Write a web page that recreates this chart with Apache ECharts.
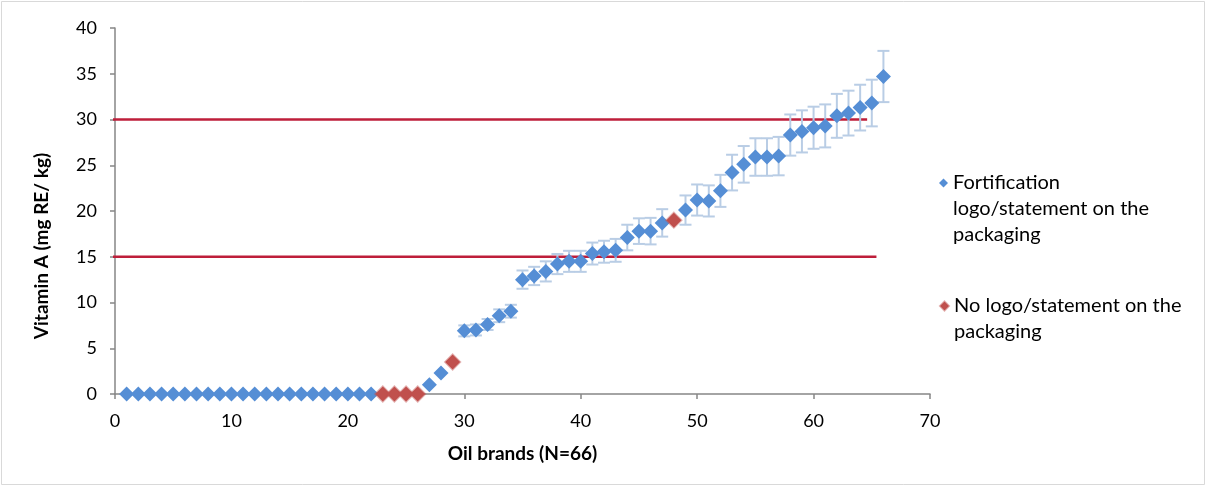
<!DOCTYPE html>
<html>
<head>
<meta charset="utf-8">
<script src="https://cdn.jsdelivr.net/npm/echarts@6/dist/echarts.min.js"></script>
<style>
  html, body { margin: 0; padding: 0; background: #fff; }
  #chart { width: 1207px; height: 489px; }
</style>
</head>
<body>
<div id="chart"></div>
<script>
// oil brand index (x)
const brands = [
  1, 2, 3, 4, 5, 6, 7, 8, 9, 10, 11, 12, 13, 14, 15, 16, 17, 18, 19, 20, 21, 22,
  23, 24, 25, 26, 27, 28, 29, 30, 31, 32, 33, 34, 35, 36, 37, 38, 39, 40, 41, 42,
  43, 44, 45, 46, 47, 48, 49, 50, 51, 52, 53, 54, 55, 56, 57, 58, 59, 60, 61, 62,
  63, 64, 65, 66
];
// vitamin A, mg RE / kg
const vitaminA = [
  0, 0, 0, 0, 0, 0, 0, 0, 0, 0, 0, 0, 0, 0, 0, 0, 0, 0, 0, 0, 0, 0,
  0, 0, 0, 0, 1.0, 2.3, 3.5, 6.9, 7.0, 7.6, 8.55, 9.05, 12.5, 12.9, 13.4, 14.2, 14.5, 14.5, 15.35, 15.55,
  15.7, 17.1, 17.8, 17.8, 18.7, 19.0, 20.1, 21.2, 21.1, 22.2, 24.2, 25.1, 25.9, 25.9, 26.0, 28.3, 28.7, 29.1, 29.3, 30.4,
  30.7, 31.3, 31.8, 34.7
];
// error bar half width (0 = no bar drawn)
const errors = [
  0, 0, 0, 0, 0, 0, 0, 0, 0, 0, 0, 0, 0, 0, 0, 0, 0, 0, 0, 0, 0, 0,
  0, 0, 0, 0, 0, 0, 0, 0.6, 0.6, 0.6, 0.7, 0.7, 1.0, 1.0, 1.1, 1.1, 1.15, 1.15, 1.2, 1.2,
  1.25, 1.4, 1.4, 1.45, 1.5, 0, 1.6, 1.7, 1.7, 1.75, 1.95, 2.0, 2.05, 2.05, 2.1, 2.25, 2.3, 2.3, 2.35, 2.4,
  2.45, 2.5, 2.55, 2.8
];
// 1 = fortification logo/statement on the packaging, 0 = no logo
const hasLogo = [
  1, 1, 1, 1, 1, 1, 1, 1, 1, 1, 1, 1, 1, 1, 1, 1, 1, 1, 1, 1, 1, 1,
  0, 0, 0, 0, 1, 1, 0, 1, 1, 1, 1, 1, 1, 1, 1, 1, 1, 1, 1, 1,
  1, 1, 1, 1, 1, 0, 1, 1, 1, 1, 1, 1, 1, 1, 1, 1, 1, 1, 1, 1,
  1, 1, 1, 1
];
const thresholds = [15, 30];
const thresholdEnds = [65.4, 64.6];

const seriesNames = [
  'Fortification logo/statement on the packaging',
  'No logo/statement on the packaging'
];
// leading blank lines keep the icon next to the first line
const legendLabels = [
  '\n\nFortification\nlogo/statement on the\npackaging',
  '\nNo logo/statement on the\npackaging'
];

const BLUE = '#558ED5';
const RED = '#C0504D';
const FONT = 'Lato';

const logoData = [];
const noLogoData = [];
const errData = [];
brands.forEach((b, i) => {
  if (hasLogo[i]) {
    logoData.push([b, vitaminA[i]]);
  } else {
    noLogoData.push([b, vitaminA[i]]);
  }
  if (errors[i] > 0) {
    errData.push([b, vitaminA[i] - errors[i], vitaminA[i] + errors[i]]);
  }
});

function renderErr(params, api) {
  const lo = api.coord([api.value(0), api.value(1)]);
  const hi = api.coord([api.value(0), api.value(2)]);
  const hw = 6;
  const style = { stroke: '#B9CDE5', lineWidth: 2 };
  return {
    type: 'group',
    children: [
      { type: 'line', shape: { x1: lo[0], y1: lo[1], x2: hi[0], y2: hi[1] }, style },
      { type: 'line', shape: { x1: lo[0] - hw, y1: lo[1], x2: lo[0] + hw, y2: lo[1] }, style },
      { type: 'line', shape: { x1: hi[0] - hw, y1: hi[1], x2: hi[0] + hw, y2: hi[1] }, style }
    ]
  };
}

const chart = echarts.init(document.getElementById('chart'), null, { renderer: 'canvas' });

const thresholdSeries = thresholds.map((t, i) => ({
  type: 'line',
  silent: true,
  clip: false,
  symbol: 'none',
  data: [[-0.86, t], [thresholdEnds[i], t]],
  lineStyle: { color: '#BE1E3A', width: 2.5 },
  z: 1
}));

function legendFor(idx, top) {
  return {
    data: [seriesNames[idx]],
    orient: 'vertical',
    left: 939,
    top: top,
    padding: 0,
    itemWidth: 9,
    itemHeight: 9,
    formatter: () => legendLabels[idx],
    textStyle: {
      fontFamily: FONT,
      fontSize: 20,
      lineHeight: 26,
      color: '#000'
    }
  };
}

chart.setOption({
  animation: false,
  backgroundColor: '#fff',
  textStyle: { fontFamily: FONT },
  graphic: [{
    type: 'rect',
    shape: { x: 1.5, y: 1.5, width: 1203, height: 483 },
    style: { fill: 'none', stroke: '#D9D9D9', lineWidth: 1 },
    silent: true
  }],
  grid: { left: 115, right: 277, top: 28, bottom: 95 },
  legend: [legendFor(0, 118), legendFor(1, 267)],
  xAxis: {
    type: 'value',
    min: 0,
    max: 70,
    interval: 10,
    name: 'Oil brands (N=66)',
    nameLocation: 'middle',
    nameGap: 50,
    nameTextStyle: { fontFamily: FONT, fontWeight: 'bold', fontSize: 19, color: '#000' },
    axisLine: { lineStyle: { color: '#868686', width: 1.5 } },
    axisTick: { inside: false, length: 5, lineStyle: { color: '#868686', width: 1.5 } },
    axisLabel: { fontFamily: FONT, fontSize: 18, color: '#000', margin: 18 },
    splitLine: { show: false }
  },
  yAxis: {
    type: 'value',
    min: 0,
    max: 40,
    interval: 5,
    name: 'Vitamin A (mg RE/ kg)',
    nameLocation: 'middle',
    nameGap: 64,
    nameTextStyle: { fontFamily: FONT, fontWeight: 'bold', fontSize: 19, color: '#000', padding: [0, 70, 0, 0] },
    axisLine: { show: true, lineStyle: { color: '#868686', width: 1.5 } },
    axisTick: { show: true, inside: false, length: 5, lineStyle: { color: '#868686', width: 1.5 } },
    axisLabel: { fontFamily: FONT, fontSize: 18, color: '#000', margin: 18 },
    splitLine: { show: false }
  },
  series: [
    ...thresholdSeries,
    {
      type: 'custom',
      silent: true,
      renderItem: renderErr,
      data: errData,
      z: 2
    },
    {
      name: seriesNames[0],
      type: 'scatter',
      symbol: 'diamond',
      symbolSize: 15,
      data: logoData,
      itemStyle: { color: BLUE, opacity: 1 },
      z: 3
    },
    {
      name: seriesNames[1],
      type: 'scatter',
      symbol: 'diamond',
      symbolSize: 15,
      data: noLogoData,
      itemStyle: { color: RED, opacity: 1, borderColor: 'rgba(192,80,77,0.45)', borderWidth: 2 },
      z: 4
    }
  ]
});
</script>
</body>
</html>
